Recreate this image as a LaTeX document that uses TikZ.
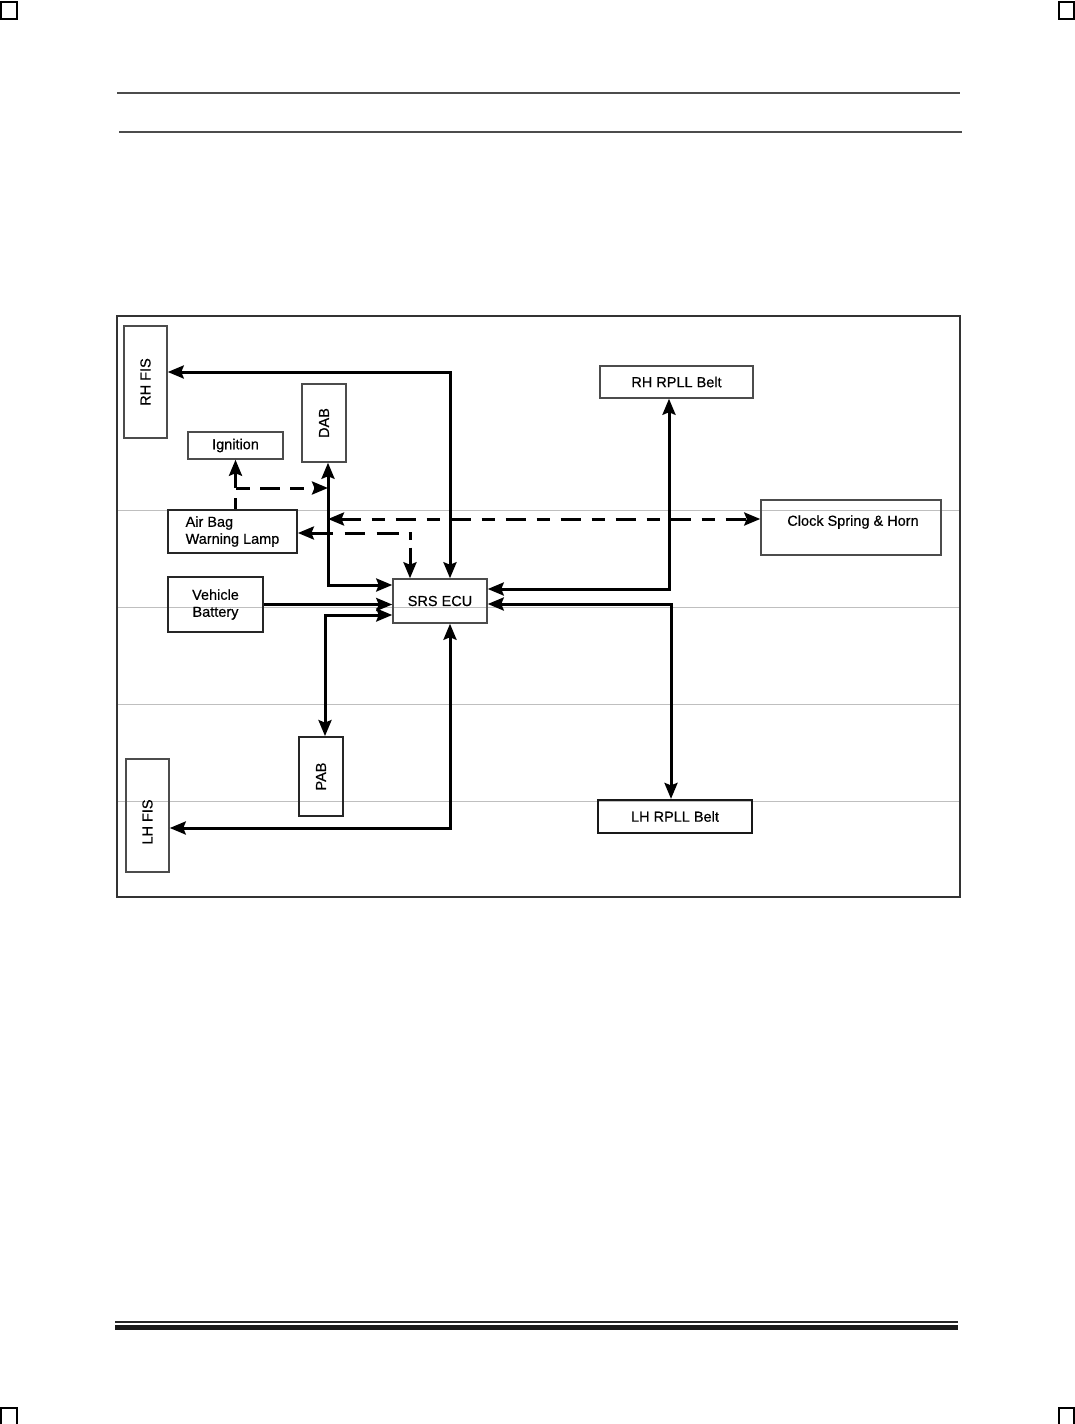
\documentclass[tikz,border=0pt]{standalone}
\usepackage{fontspec}
\setmainfont{Liberation Sans}
\newfontfamily\diagfont{Liberation Sans}[FakeBold=0.5]
\usetikzlibrary{arrows.meta,calc}
\begin{document}
\begin{tikzpicture}[x=1pt,y=-1pt,
  tip/.tip={Stealth[length=16pt,width=13pt,inset=2.5pt]},
  box/.style={draw=black!70,line width=1.5pt,minimum width=#1,inner sep=0pt},
  txt/.style={font=\diagfont\fontsize{14.5}{17}\selectfont},
  conn/.style={line width=3pt,black,tip-tip},
  oneway/.style={line width=3pt,black,-tip},
  dsh/.style={line width=3pt,black,dash pattern=on 20pt off 11pt on 13pt off 11pt},
  grid line/.style={draw=black!25,line width=1pt},
  frame/.style={draw=black!80,line width=1.5pt},
  rule/.style={draw=black!70,line width=1.5pt}]
\useasboundingbox (0,0) rectangle (1075,1424);
% corner marks
\draw[line width=1.5pt] (1,2) rectangle (17,19);
\draw[line width=1.5pt] (1059,2) rectangle (1074,19);
\draw[line width=1.5pt] (1,1408) rectangle (17,1430);
\draw[line width=1.5pt] (1059,1408) rectangle (1074,1430);
% header rules
\draw[rule] (117,93) -- (960,93);
\draw[rule] (119,132) -- (962,132);
% footer rules
\draw[draw=black!85,line width=1.5pt] (115,1322) -- (958,1322);
\draw[draw=black!90,line width=5pt] (115,1327.5) -- (958,1327.5);
% frame and grid
\draw[grid line] (117,510) -- (960,510);
\draw[grid line] (117,607) -- (960,607);
\draw[grid line] (117,704) -- (960,704);
\draw[grid line] (117,801) -- (960,801);
\draw[frame] (117,316) rectangle (960,897);
% nodes
\node[box=43pt,minimum height=112pt,txt] (rhfis) at (145.5,382) {\rotatebox{90}{RH FIS}};
\node[box=44pt,minimum height=78pt,txt] (dab) at (324,423) {\rotatebox{90}{DAB}};
\node[box=95pt,minimum height=27pt,txt] (ign) at (235.5,445.5) {Ignition};
\node[box=129pt,minimum height=43pt,txt,align=left,line width=1.8pt,draw=black!85] (lamp) at (232.5,531.5) {Air Bag\\Warning Lamp};
\node[box=95pt,minimum height=55pt,txt,align=center,line width=1.8pt,draw=black!85] (batt) at (215.5,604.5) {Vehicle\\Battery};
\node[box=94pt,minimum height=44pt,txt] (ecu) at (440,601) {SRS ECU};
\node[box=153pt,minimum height=32pt,txt] (rhbelt) at (676.5,382) {RH RPLL Belt};
\node[box=180pt,minimum height=55pt] (clock) at (851,527.5) {};
\node[txt] (clocktxt) at (853,522) {Clock Spring \& Horn};
\node[box=44pt,minimum height=79pt,txt,line width=1.8pt,draw=black!85] (pab) at (321,776.5) {\rotatebox{90}{PAB}};
\node[box=43pt,minimum height=113pt] (lhfis) at (147.5,815.5) {};
\node[txt] (lhfistxt) at (147.5,822) {\rotatebox{90}{LH FIS}};
\node[box=154pt,minimum height=33pt,txt,line width=2.2pt,draw=black!90] (lhbelt) at (675,816.5) {LH RPLL Belt};
% helper coordinates
\coordinate (dabx) at ([xshift=4pt]dab.south);
\coordinate (j1) at (ign.south |- 0,488);
\coordinate (cw) at ([yshift=8.5pt]clock.west);
% connectors
\draw[conn] ([xshift=10pt]ecu.north) |- ([yshift=10pt]rhfis.east);
\draw[conn] (dabx) |- ([yshift=16pt]ecu.west);
\draw[line width=3pt,dash pattern=on 11pt off 11pt on 14pt off 10pt on 20pt off 10pt on 14pt off 10pt,-tip] (lamp.north -| ign.south) -- (j1) -- (j1 -| dabx);
\draw[line width=3pt,-tip] (j1) -- (ign.south);
\draw[dsh,tip-tip] (cw -| dabx) -- (cw);
\draw[line width=3pt,dash pattern=on 22pt off 12pt on 20pt off 12pt on 22pt off 10pt on 8pt off 8pt,tip-tip] ([yshift=-1.5pt]lamp.east) -| ([xshift=-30pt]ecu.north);
\draw[oneway] (batt.east) -- (ecu.west |- batt.east);
\draw[conn] ([yshift=-14pt]ecu.west) -| ([xshift=4pt]pab.north);
\draw[conn] ([xshift=10pt]ecu.south) |- ([yshift=-12.5pt]lhfis.east);
\draw[conn] ([yshift=12pt]ecu.east) -| ([xshift=-7.5pt]rhbelt.south);
\draw[conn] ([yshift=-3pt]ecu.east) -| ([xshift=-4pt]lhbelt.north);
\end{tikzpicture}
\end{document}
